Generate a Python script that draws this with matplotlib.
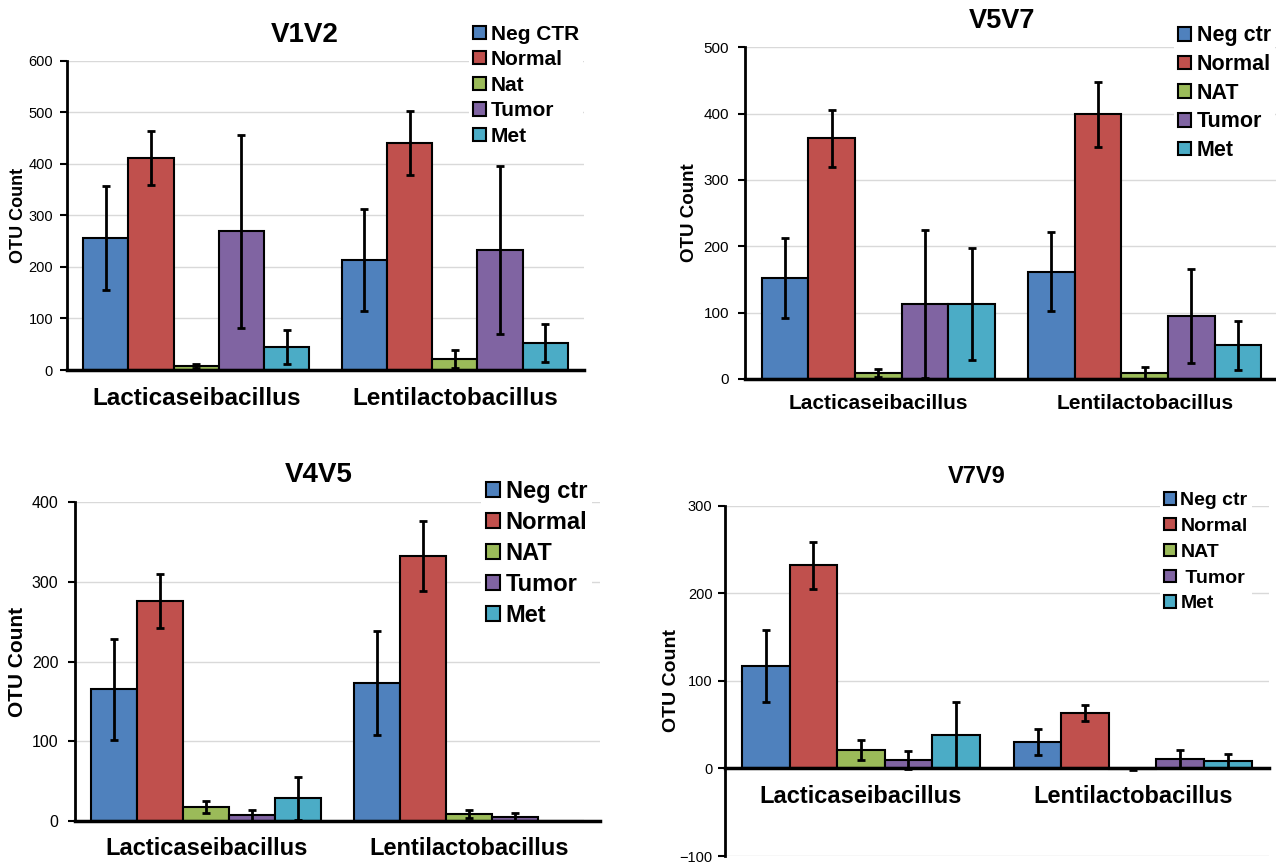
import numpy as np
import matplotlib.pyplot as plt

plt.rcParams['font.family'] = ['Liberation Sans', 'DejaVu Sans']

W, H = 1276, 866

groups = ['Lacticaseibacillus', 'Lentilactobacillus']
colors = ['#4F81BD', '#C0504D', '#9BBB59', '#8064A2', '#4BACC6']

# values per series: [Lacticaseibacillus, Lentilactobacillus]
v1v2_labels = ['Neg CTR', 'Normal', 'Nat', 'Tumor', 'Met']
v1v2_vals = [[256, 214], [411, 441], [8, 21], [269, 232], [44, 53]]
v1v2_errs = [[100, 99], [53, 62], [4, 17], [187, 163], [33, 37]]

v5v7_labels = ['Neg ctr', 'Normal', 'NAT', 'Tumor', 'Met']
v5v7_vals = [[152, 162], [363, 399], [8.5, 8.5], [113, 95], [113, 51]]
v5v7_errs = [[60, 60], [43, 49], [6, 9], [111, 71], [84, 37]]

v4v5_labels = ['Neg ctr', 'Normal', 'NAT', 'Tumor', 'Met']
v4v5_vals = [[165, 173], [276, 333], [17.6, 8.4], [6.7, 4.6], [28, 0]]
v4v5_errs = [[63, 65], [34, 44], [7.5, 4.6], [7, 4.5], [27, 0]]

v7v9_labels = ['Neg ctr', 'Normal', 'NAT', ' Tumor', 'Met']
v7v9_vals = [[117, 30], [232, 63], [20.6, -0.5], [9.5, 10.7], [37.7, 8.4]]
v7v9_errs = [[41.5, 15], [27, 9], [11.5, 1.5], [10, 10.7], [37.7, 8.4]]

fig = plt.figure(figsize=(W / 100, H / 100), dpi=100)


def panel(box, vals, errs, labels, ylim, ystep, title, title_xy, title_fs,
          leg_xy, leg_fs, leg_space, cat_fs, cat_pad, ylab_xy, ylab_fs,
          tick_fs, tick_pad, zero_axis=False):
    l, r, t, b = box
    ax = fig.add_axes([l / W, 1 - b / H, (r - l) / W, (b - t) / H])
    if zero_axis:
        ax.spines['bottom'].set_position(('data', 0))
    x = np.arange(len(groups))
    w = 0.175
    handles = []
    for i in range(len(vals)):
        bars = ax.bar(x + (i - 2) * w, vals[i], w, yerr=errs[i], color=colors[i],
                      edgecolor='black', linewidth=1.5, label=labels[i],
                      error_kw=dict(elinewidth=2, capsize=3, capthick=2, ecolor='black'))
        handles.append(bars)
    ax.set_xlim(-0.5, 1.5)
    ax.set_ylim(*ylim)
    ax.set_yticks(np.arange(ylim[0], ylim[1] + 1, ystep))
    ax.set_axisbelow(True)
    ax.yaxis.grid(True, color='#d9d9d9', linewidth=1)
    ax.set_xticks(x)
    ax.set_xticklabels(groups, fontsize=cat_fs, fontweight='bold')
    ax.tick_params(axis='x', length=0, pad=cat_pad)
    ax.tick_params(axis='y', direction='out', length=5, width=1.5,
                   labelsize=tick_fs, pad=tick_pad)
    for s in ['top', 'right']:
        ax.spines[s].set_visible(False)
    ax.spines['left'].set_linewidth(2)
    ax.spines['bottom'].set_linewidth(2.5)
    fs_px = leg_fs * 100 / 72
    ax.legend(handles=handles, loc='upper left',
              bbox_to_anchor=(leg_xy[0] / W, 1 - leg_xy[1] / H),
              bbox_transform=fig.transFigure,
              prop={'weight': 'bold', 'size': leg_fs},
              frameon=True, edgecolor='none', facecolor='white', framealpha=1,
              fancybox=False, borderpad=0.2, borderaxespad=0,
              handlelength=0.6, handleheight=0.6, handletextpad=0.25,
              labelspacing=leg_space / fs_px - 0.91)
    fig.text(title_xy[0] / W, 1 - title_xy[1] / H, title, ha='center', va='center',
             fontsize=title_fs, fontweight='bold')
    fig.text(ylab_xy[0] / W, 1 - ylab_xy[1] / H, 'OTU Count', rotation=90,
             ha='center', va='center', fontsize=ylab_fs, fontweight='bold')
    return ax


panel((67, 584, 60.7, 370), v1v2_vals, v1v2_errs, v1v2_labels, (0, 600), 100,
      'V1V2', (305, 35), 20, (469, 20.5), 15, 25.5, 17.5, 12, (19, 215), 13, 10.5, 5)

panel((745, 1278, 47.3, 379), v5v7_vals, v5v7_errs, v5v7_labels, (0, 500), 100,
      'V5V7', (1002, 21), 19.5, (1174, 21), 15.5, 27.3, 15, 10.5, (690, 213), 13.5, 11, 6.5)

panel((75, 600, 502.3, 820.7), v4v5_vals, v4v5_errs, v4v5_labels, (0, 400), 100,
      'V4V5', (319, 475), 20, (481, 475), 17, 29.6, 17, 11.4, (18, 662), 15, 11.5, 7)

panel((725, 1268.6, 505.7, 856), v7v9_vals, v7v9_errs, v7v9_labels, (-100, 300), 100,
      'V7V9', (977, 477), 17, (1160, 488.5), 14, 26.4, 17, 11.6, (671, 681), 14, 10.5, 4,
      zero_axis=True)

fig.savefig('out.png', dpi=100)
